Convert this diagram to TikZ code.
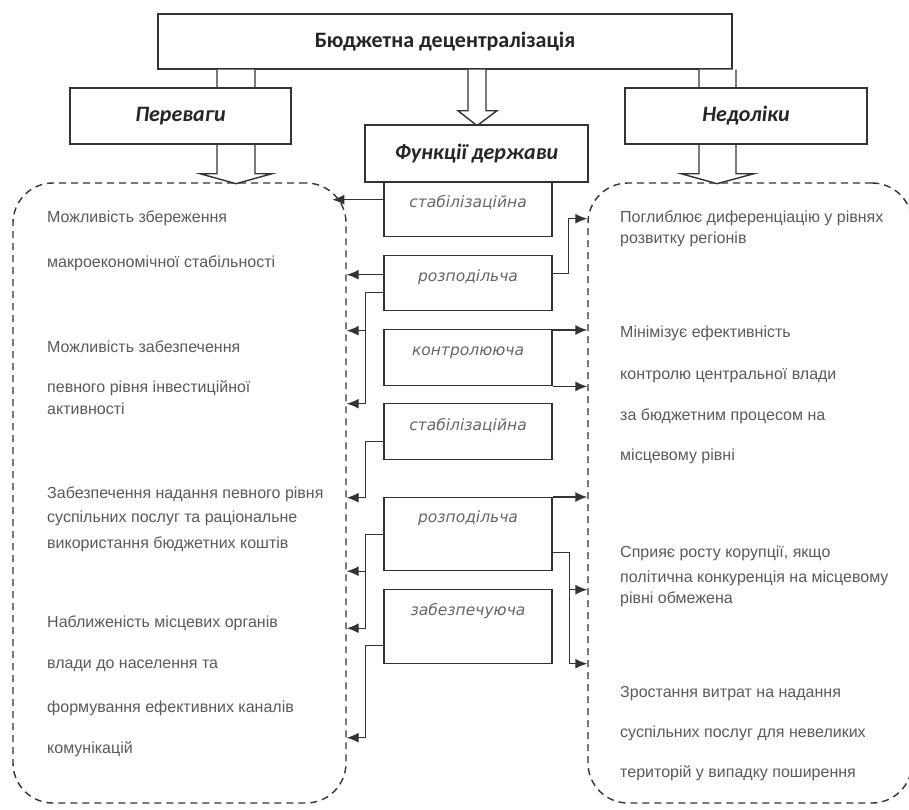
\documentclass[tikz,border=0pt]{standalone}
\usepackage{fontspec}
\setmainfont{Liberation Sans}
\newfontfamily\titlefont{Carlito}
\newfontfamily\funcfont{DejaVu Sans}
\usetikzlibrary{arrows.meta,calc}
\definecolor{ln}{HTML}{333333}
\definecolor{tx}{HTML}{5A5A5A}
\definecolor{fx}{HTML}{666666}
\begin{document}
\begin{tikzpicture}[x=1pt,y=-1pt,
 line/.style={draw=ln,line width=1.4pt},
 box/.style={line, fill=white, inner sep=0pt, rectangle},
 titlebox/.style={box, font=\titlefont\bfseries\fontsize{22}{26}\selectfont, text=black!85},
 fbox/.style={box, anchor=north, minimum width=168pt, font=\funcfont\itshape\fontsize{15.5}{18}\selectfont, text=fx},
 dbox/.style={draw=ln, line width=1.4pt, dash pattern=on 7pt off 5pt, rounded corners=40pt, inner sep=0pt, rectangle},
 body/.style={anchor=base west, inner sep=0pt, text=tx, font=\fontsize{16}{19}\selectfont},
 conn/.style={line, -{Latex[length=12pt,width=10pt]}},
 hollow/.style={line, fill=white, line join=miter},
]
\useasboundingbox (0,0) rectangle (909,809);

% dashed containers
\node[dbox, minimum width=333pt, minimum height=620pt] (lb) at (179.5,493) {};
\node[dbox, minimum width=324pt, minimum height=620pt] (rb) at (750,493) {};

% top box
\node[titlebox, minimum width=574pt, minimum height=55pt] (top) at (445,41.5) {Бюджетна децентралізація};

% hollow arrows
\draw[hollow] ([xshift=-228pt]top.south) -- ++(0,104) -- ++(-17,0) -- ++(36,10) -- ++(36,-10) -- ++(-17,0) -- ([xshift=-190pt]top.south);
\draw[hollow] ([xshift=254pt]top.south) -- ++(0,104) -- ++(-18,0) -- ++(36,10) -- ++(37,-10) -- ++(-18,0) -- ([xshift=291pt]top.south);
\draw[hollow] ([xshift=23pt]top.south) -- ++(0,41) -- ++(-10,0) -- ++(19,15) -- ++(20,-15) -- ++(-11,0) -- ([xshift=41pt]top.south);

% second-level boxes
\node[titlebox, minimum width=221pt, minimum height=56pt] (per) at (180.5,116) {\itshape Переваги};
\node[titlebox, minimum width=242pt, minimum height=56pt] (ned) at (746,116) {\itshape Недоліки};
\node[titlebox, minimum width=223pt, minimum height=57pt] (fun) at (476.5,153.5) {\itshape Функції держави};

% function boxes
\node[fbox, text height=25pt, text depth=29pt] (s1) at (468,182) {стабілізаційна};
\node[fbox, text height=26pt, text depth=29pt] (r1) at (468,255) {розподільча};
\node[fbox, text height=26pt, text depth=30pt] (k)  at (468,329) {контролююча};
\node[fbox, text height=27pt, text depth=29pt] (s2) at (468,403) {стабілізаційна};
\node[fbox, text height=25pt, text depth=48pt] (r2) at (468,497) {розподільча};
\node[fbox, text height=26pt, text depth=48pt] (z)  at (468,589) {забезпечуюча};

% connectors
\draw[conn] ([yshift=10pt]s1.west) -- ++(-51,0);
\draw[conn] ([yshift=8.5pt]r1.west) coordinate (r1a) -- (r1a -| lb.east);
\draw[conn] ([yshift=-9.5pt]r1.west) -- ++(-18,0) coordinate (r1v) -- ++(0,111) coordinate (r1e) -- (r1e -| lb.east);
\draw[conn] ([shift={(0,38)}]r1v) coordinate (r1b) -- (r1b -| lb.east);
\draw[conn] ([yshift=9.5pt]r1.east) -- ++(16,0) -- ++(0,-55) coordinate (r1r) -- (r1r -| rb.west);
\draw[conn] ([yshift=-1pt]k.north east) coordinate (ka) -- (ka -| rb.west);
\draw[conn] (k.south east) -- (k.south east -| rb.west);
\draw[conn] ([yshift=-10pt]s2.west) -- ++(-18,0) -- ++(0,56) coordinate (s2e) -- (s2e -| lb.east);
\draw[conn] (r2.north east) -- (r2.north east -| rb.west);
\draw[conn] ([yshift=-18.5pt]r2.east) -- ++(17,0) coordinate (r2v) -- ++(0,111) coordinate (r2e) -- (r2e -| rb.west);
\draw[conn] ([shift={(0,37)}]r2v) coordinate (r2b) -- (r2b -| rb.west);
\draw[conn] (r2.west) -- ++(-18,0) coordinate (r2l) -- ++(0,94) coordinate (r2f) -- (r2f -| lb.east);
\draw[conn] ([shift={(0,37)}]r2l) coordinate (r2c) -- (r2c -| lb.east);
\draw[conn] ([yshift=-19pt]z.west) -- ++(-18,0) -- ++(0,92) coordinate (ze) -- (ze -| lb.east);

% left texts
\node[body] (a1) at (47,222) {Можливість збереження};
\node[body] (a2) at (47,267) {макроекономічної стабільності};
\node[body] (b1) at (47,352) {Можливість забезпечення};
\node[body] (b2) at (47,392) {певного рівня інвестиційної};
\node[body] (b3) at (47,414) {активності};
\node[body] (c1) at (47,498) {Забезпечення надання певного рівня};
\node[body] (c2) at (47,522) {суспільних послуг та раціональне};
\node[body] (c3) at (47,548) {використання бюджетних коштів};
\node[body] (d1) at (47,627) {Наближеність місцевих органів};
\node[body] (d2) at (47,668) {влади до населення та};
\node[body] (d3) at (47,712) {формування ефективних каналів};
\node[body] (d4) at (47,753) {комунікацій};

% right texts
\node[body] (e1) at (620,222) {Поглиблює диференціацію у рівнях};
\node[body] (e2) at (620,243) {розвитку регіонів};
\node[body] (f1) at (620,337) {Мінімізує ефективність};
\node[body] (f2) at (620,379) {контролю центральної влади};
\node[body] (f3) at (620,420) {за бюджетним процесом на};
\node[body] (f4) at (620,460) {місцевому рівні};
\node[body] (g1) at (620,557) {Сприяє росту корупції, якщо};
\node[body] (g2) at (620,582) {політична конкуренція на місцевому};
\node[body] (g3) at (620,603) {рівні обмежена};
\node[body] (h1) at (620,697) {Зростання витрат на надання};
\node[body] (h2) at (620,737) {суспільних послуг для невеликих};
\node[body] (h3) at (620,777) {територій у випадку поширення};
\end{tikzpicture}
\end{document}
